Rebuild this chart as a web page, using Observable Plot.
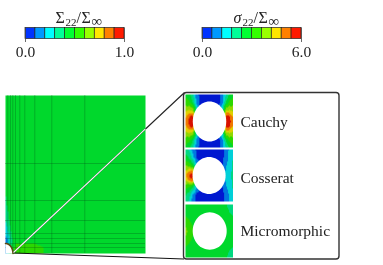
<!DOCTYPE html>
<html><head><meta charset="utf-8">
<style>html,body{margin:0;padding:0;background:#fff}svg{display:block;filter:blur(.35px)}</style>
<script src="https://cdn.jsdelivr.net/npm/d3@7"></script>
<script src="https://cdn.jsdelivr.net/npm/@observablehq/plot@0.6"></script>
</head><body><script>
const barColors = ["#0033ff","#0099ff","#00ffff","#00ff99","#00ff33","#33ff00","#99ff00","#ffe600","#ff8000","#ff1a00"];
const fieldThresholds = [.1,.2,.3,.4,.5,.6,.7,.8,.9];
const fieldColors = ["#0018d0","#0078e0","#00d0d8","#00d880","#00d82c","#2cd800","#90d800","#e0d000","#f07800","#d81000"];
const bars = [{x0:25,x1:124,lo:"0.0",hi:"1.0"},{x0:202,x1:301,lo:"0.0",hi:"6.0"}];
const titleParts = [
  {t:"Σ",x:55,y:22,s:16},{t:"22",x:65,y:25,s:11},{t:"/",x:76,y:22,s:16},{t:"Σ",x:81,y:22,s:16},{t:"∞",x:91,y:25,s:15},
  {t:"22",x:242,y:25,s:11},{t:"/",x:253,y:22,s:16},{t:"Σ",x:258,y:22,s:16},{t:"∞",x:268,y:25,s:15}
];
const sigma = [{t:"σ",x:233,y:22,s:16}];

const mainX = [5,7.3,10,12.3,15,19.3,24.3,34.3,51.3,84.3,145];
const mainY = [95,163,200,220,233,238,243,247,253];
const mainV = [
 [.45,.45,.45,.45,.45,.45,.45,.45,.45,.45,.45],
 [.44,.45,.45,.45,.45,.45,.45,.45,.45,.45,.45],
 [.38,.44,.45,.45,.45,.45,.45,.45,.45,.45,.45],
 [.3,.36,.44,.45,.45,.45,.45,.45,.45,.45,.45],
 [.22,.28,.38,.44,.46,.46,.46,.45,.45,.45,.45],
 [.15,.22,.34,.42,.47,.48,.48,.47,.46,.45,.45],
 [.12,.2,.35,.42,.5,.5,.5,.5,.48,.46,.45],
 [.12,.25,.4,.48,.52,.53,.52,.51,.49,.46,.45],
 [.12,.25,.45,.52,.55,.54,.53,.51,.49,.46,.45]
];
const insetX = [185,189,192,196,200,209,218,222,226,229,232.5];
const cauchyY = [94,102,110,116,121,126,132,140,147];
const cauchyV = [
 [.48,.42,.32,.15,.06,.04,.06,.15,.32,.42,.48],
 [.56,.52,.42,.18,.05,.02,.05,.18,.42,.52,.56],
 [.68,.72,.7,.3,.08,.02,.08,.3,.7,.72,.68],
 [.78,.9,.95,.5,.1,.05,.1,.5,.95,.9,.78],
 [.82,.95,.99,.5,.1,.05,.1,.5,.99,.95,.82],
 [.78,.9,.95,.5,.1,.05,.1,.5,.95,.9,.78],
 [.68,.72,.7,.3,.08,.02,.08,.3,.7,.72,.68],
 [.56,.52,.42,.18,.05,.02,.05,.18,.42,.52,.56],
 [.48,.42,.32,.15,.06,.04,.06,.15,.32,.42,.48]
];
const cosseratY = [149,157,165,171,175,180,186,194,201];
const cosseratV = [
 [.34,.28,.16,.08,.05,.03,.05,.08,.15,.22,.28],
 [.45,.38,.25,.1,.03,.02,.03,.08,.15,.25,.3],
 [.6,.58,.48,.2,.05,.02,.05,.1,.2,.27,.32],
 [.72,.82,.85,.3,.1,.1,.15,.18,.22,.27,.32],
 [.76,.92,.99,.3,.1,.1,.15,.18,.22,.28,.33],
 [.7,.82,.85,.3,.1,.1,.15,.18,.22,.27,.32],
 [.55,.52,.45,.2,.05,.02,.05,.1,.2,.27,.32],
 [.42,.34,.2,.08,.03,.02,.03,.07,.13,.22,.28],
 [.34,.28,.16,.08,.05,.03,.05,.08,.15,.22,.28]
];
const microY = [204,212,220,226,231,236,242,250,257];
const microV = [
 [.46,.46,.46,.46,.46,.46,.45,.43,.4,.38,.38],
 [.48,.46,.46,.46,.46,.46,.45,.45,.42,.4,.39],
 [.52,.5,.47,.46,.46,.46,.46,.45,.45,.42,.41],
 [.6,.55,.5,.46,.46,.46,.46,.45,.45,.45,.43],
 [.62,.58,.52,.46,.46,.46,.46,.45,.45,.45,.44],
 [.6,.55,.5,.46,.46,.46,.46,.45,.45,.45,.43],
 [.52,.5,.47,.46,.46,.46,.46,.45,.45,.42,.41],
 [.48,.46,.46,.46,.46,.46,.45,.45,.42,.4,.39],
 [.46,.46,.46,.46,.46,.46,.45,.43,.4,.38,.38]
];
const labels = [{t:"Cauchy",y:122},{t:"Cosserat",y:178},{t:"Micromorphic",y:231}];
const holes = [
 {id:"a",cx:209,cy:121,rx:16.7,ry:20,a0:0,a1:360},
 {id:"b",cx:208.6,cy:175,rx:16.5,ry:18.5,a0:0,a1:360},
 {id:"c",cx:209.2,cy:230.5,rx:17,ry:18.7,a0:0,a1:360},
 {id:"m",cx:5,cy:253,rx:7.5,ry:10,a0:0,a1:90}
];
const arc = h => d3.range(h.a0, h.a1 + 1, 6).map(a => ({id:h.id,
    x:h.cx + h.rx*Math.cos(a*Math.PI/180), y:h.cy - h.ry*Math.sin(a*Math.PI/180)}));
const holePts = holes.flatMap(h => {
  const pts = arc(h);
  if (h.a1 - h.a0 < 360) pts.push({id:h.id,x:h.cx,y:h.cy});
  return pts;
});
const table = (xs, ys, vs) => ys.flatMap((y,j) => xs.map((x,i) => ({x,y,v:vs[j][i]})));
const field = (xs, ys, vs) => Plot.raster(table(xs,ys,vs), {
  x:"x", y:"y", fill:"v", interpolate:"barycentric", pixelSize:1,
  x1:xs[0], x2:xs[xs.length-1], y1:ys[0], y2:ys[ys.length-1]
});
const barCells = bars.flatMap(b => barColors.map((c,i) => ({c, x1:b.x0+i*(b.x1-b.x0)/10, x2:b.x0+(i+1)*(b.x1-b.x0)/10})));
const serif = "'Liberation Serif','DejaVu Serif',serif";

const chart = Plot.plot({
  width:383, height:265, margin:0,
  x:{domain:[0,383], range:[0,383], axis:null},
  y:{domain:[0,265], range:[0,265], axis:null},
  color:{type:"threshold", domain:fieldThresholds, range:fieldColors},
  style:{background:"#fff", fontFamily:serif},
  marks:[
    field(mainX, mainY, mainV),
    Plot.ruleX(mainX.slice(1,-1), {y1:mainY[0], y2:mainY[mainY.length-1], stroke:"#004018", strokeOpacity:.38, strokeWidth:.7}),
    Plot.ruleY(mainY.slice(1,-1), {x1:mainX[0], x2:mainX[mainX.length-1], stroke:"#004018", strokeOpacity:.38, strokeWidth:.7}),
    field(insetX, cauchyY, cauchyV),
    field(insetX, cosseratY, cosseratV),
    field(insetX, microY, microV),
    Plot.line(holePts, {x:"x", y:"y", z:"id", fill:"#fff", stroke:null, curve:"linear-closed"}),
    Plot.line(arc(holes[3]), {x:"x", y:"y", stroke:"#5a4a10", strokeWidth:1.6}),
    Plot.link([{x1:13,y1:252.5,x2:183.5,y2:258.5}], {x1:"x1",y1:"y1",x2:"x2",y2:"y2", stroke:"#111", strokeWidth:1.1}),
    Plot.link([{x1:13,y1:252,x2:184,y2:92}], {x1:"x1",y1:"y1",x2:"x2",y2:"y2", stroke:"#222", strokeWidth:1.1}),
    Plot.link([{x1:13,y1:252,x2:145,y2:128.4}], {x1:"x1",y1:"y1",x2:"x2",y2:"y2", stroke:"#fff", strokeWidth:1.1}),
    Plot.rect([{x1:183.5,x2:339,y1:92.5,y2:259}], {x1:"x1",x2:"x2",y1:"y1",y2:"y2", fill:"none", stroke:"#333", strokeWidth:1.4, r:3}),
    Plot.rect(barCells, {x1:"x1",x2:"x2",y1:27.5,y2:38.5, fill:"c", stroke:"#222", strokeWidth:.7}),
    Plot.ruleX(bars.flatMap(b => [b.x0,b.x1]), {y1:27.5, y2:42, stroke:"#444", strokeWidth:.8}),
    Plot.text(bars, {x:"x0", y:52, text:"lo", fontSize:15.5, fill:"#222", textAnchor:"middle"}),
    Plot.text(bars, {x:"x1", y:52, text:"hi", fontSize:15.5, fill:"#222", textAnchor:"middle"}),
    Plot.text(titleParts, {x:"x", y:"y", text:"t", fontSize:"s", fill:"#222", textAnchor:"start", lineAnchor:"bottom"}),
    Plot.text(sigma, {x:"x", y:"y", text:"t", fontSize:"s", fontStyle:"italic", fill:"#222", textAnchor:"start", lineAnchor:"bottom"}),
    Plot.text(labels, {x:240, y:"y", text:"t", fontSize:15.5, fill:"#222", textAnchor:"start"})
  ]
});
document.body.appendChild(chart);
</script></body></html>
